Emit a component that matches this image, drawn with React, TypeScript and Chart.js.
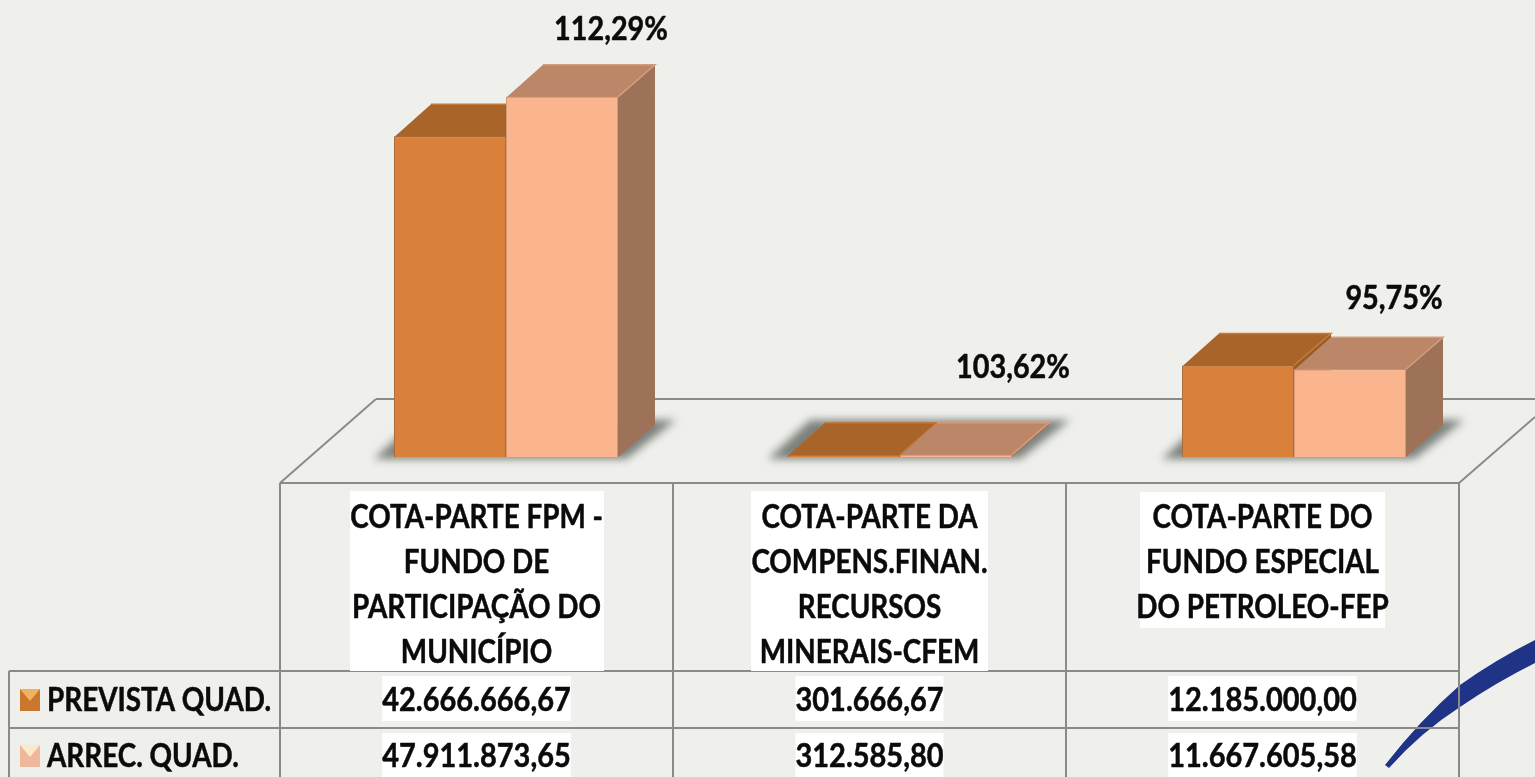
import React, { useEffect, useRef } from "react";
import { Chart, registerables } from "chart.js";

Chart.register(...registerables);

const categories = [
  "COTA-PARTE FPM - FUNDO DE PARTICIPAÇÃO DO MUNICÍPIO",
  "COTA-PARTE DA COMPENS.FINAN. RECURSOS MINERAIS-CFEM",
  "COTA-PARTE DO FUNDO ESPECIAL DO PETROLEO-FEP",
];
const categoryLines = [
  ["COTA-PARTE FPM -", "FUNDO DE", "PARTICIPAÇÃO DO", "MUNICÍPIO"],
  ["COTA-PARTE DA", "COMPENS.FINAN.", "RECURSOS", "MINERAIS-CFEM"],
  ["COTA-PARTE DO", "FUNDO ESPECIAL", "DO PETROLEO-FEP"],
];
const seriesNames = ["PREVISTA QUAD.", "ARREC. QUAD."];
const prevista = [42666666.67, 301666.67, 12185000.0];
const arrecadada = [47911873.65, 312585.8, 11667605.58];
const previstaText = ["42.666.666,67", "301.666,67", "12.185.000,00"];
const arrecadadaText = ["47.911.873,65", "312.585,80", "11.667.605,58"];
const percentLabels = ["112,29%", "103,62%", "95,75%"];

const FONT = 'Lato, "Open Sans", sans-serif';
const K_HEAD = 0.87;
const K_VALUE = 0.905;
const K_PCT = 0.9;
const BG = "#EFF0EC";
const LINE = "#8A8B88";
const pal = [
  { front: "#D9813B", top: "#A9642A", side: "#9A5A26", border: "#A9703E", rim: "#C27A3A" },
  { front: "#FAB58F", top: "#BC8769", side: "#9E7259", border: "#D49A78", rim: "#D49C7C" },
];
const swatch = [
  { body: "#C8772C", tip: "#F0B25E" },
  { body: "#EFB79C", tip: "#FBE9CC" },
];
const DX = 37;
const DY = -32;
const percentOffsets = [
  [49, -67],
  [57, -87],
  [44, -71],
];
const columnEdges = [280, 673, 1066, 1459];
const rowLines = [671, 728];
const rowCentres = [701, 757];
const lineCentres = [518, 563, 608, 653];
const labelBoxes = [
  [350, 491, 254, 180],
  [751, 491, 237, 180],
  [1140, 492, 245, 136],
];

function text(ctx: CanvasRenderingContext2D, s: string, x: number, y: number, size: number, k: number, align: CanvasTextAlign = "center") {
  ctx.save();
  ctx.font = `bold ${size}px ${FONT}`;
  ctx.textAlign = align;
  ctx.textBaseline = "middle";
  ctx.fillStyle = "#0B0B0B";
  ctx.strokeStyle = "#0B0B0B";
  ctx.lineWidth = 0.5;
  ctx.lineJoin = "round";
  ctx.translate(x, y);
  ctx.scale(k, 1);
  ctx.fillText(s, 0, 0);
  ctx.strokeText(s, 0, 0);
  ctx.restore();
}

function poly(ctx: CanvasRenderingContext2D, pts: number[][], fill: string) {
  ctx.beginPath();
  pts.forEach((p, i) => (i ? ctx.lineTo(p[0], p[1]) : ctx.moveTo(p[0], p[1])));
  ctx.closePath();
  ctx.fillStyle = fill;
  ctx.fill();
}

const backdrop = {
  id: "backdrop",
  beforeDatasetsDraw(chart: any) {
    const ctx: CanvasRenderingContext2D = chart.ctx;
    ctx.save();
    // swoosh decoration
    ctx.beginPath();
    ctx.moveTo(1385, 765);
    ctx.quadraticCurveTo(1420, 720, 1460, 685);
    ctx.quadraticCurveTo(1495, 660, 1535, 640);
    ctx.lineTo(1535, 663);
    ctx.quadraticCurveTo(1495, 683, 1460, 707);
    ctx.quadraticCurveTo(1421, 732, 1389, 768);
    ctx.closePath();
    ctx.fillStyle = "#1F3486";
    ctx.fill();

    // floor and table
    ctx.strokeStyle = LINE;
    ctx.lineWidth = 2;
    const seg = (a: number, b: number, c: number, d: number) => {
      ctx.beginPath();
      ctx.moveTo(a, b);
      ctx.lineTo(c, d);
      ctx.stroke();
    };
    seg(280, 483, 376, 399);
    seg(376, 399, 1535, 399);
    seg(1459, 483, 1535, 417);
    seg(280, 483, 1459, 483);
    columnEdges.forEach((x) => seg(x, 483, x, 777));
    rowLines.forEach((y) => seg(9, y, 1459, y));
    seg(9, 671, 9, 777);

    // shadows
    const m0 = chart.getDatasetMeta(0).data;
    const m1 = chart.getDatasetMeta(1).data;
    m0.forEach((b: any, i: number) => {
      const x0 = b.x - b.width / 2;
      const r = m1[i];
      const x1 = r.x + r.width / 2;
      ctx.save();
      ctx.filter = "blur(4px)";
      poly(ctx, [[x0 - 20, 459], [x1 + 8, 459], [x1 + 58, 420], [x0 + 22, 420]], "rgba(95,100,95,0.8)");
      ctx.restore();
    });

    // extrusions: left to right so the right bar hides the left side
    [0, 1].forEach((d) => {
      chart.getDatasetMeta(d).data.forEach((b: any) => {
        const l = b.x - b.width / 2;
        const r = b.x + b.width / 2;
        const t = b.y;
        const base = b.base;
        poly(ctx, [[r, t], [r + DX, t + DY], [r + DX, base + DY], [r, base]], pal[d].side);
        poly(ctx, [[l, t + 1], [l + DX, t + DY], [r + DX, t + DY], [r, t + 1]], pal[d].top);
        ctx.strokeStyle = pal[d].rim;
        ctx.lineWidth = 1.5;
        ctx.beginPath();
        ctx.moveTo(l + DX, t + DY);
        ctx.lineTo(r + DX, t + DY);
        ctx.lineTo(r, t);
        ctx.stroke();
      });
    });
    ctx.restore();
  },
};

const foreground = {
  id: "foreground",
  afterDatasetsDraw(chart: any) {
    const ctx: CanvasRenderingContext2D = chart.ctx;
    ctx.save();
    const m1 = chart.getDatasetMeta(1).data;
    percentLabels.forEach((s, i) => {
      text(ctx, s, m1[i].x + percentOffsets[i][0], m1[i].y + percentOffsets[i][1], 32, K_PCT);
    });

    // category header cells
    ctx.fillStyle = "#FFFFFF";
    labelBoxes.forEach((b) => ctx.fillRect(b[0], b[1], b[2], b[3]));
    categoryLines.forEach((lines, i) => {
      const cx = (columnEdges[i] + columnEdges[i + 1]) / 2;
      lines.forEach((s, j) => text(ctx, s, cx, lineCentres[j], 32, K_HEAD));
    });

    // value rows
    [previstaText, arrecadadaText].forEach((row, r) => {
      row.forEach((s, i) => {
        const cx = (columnEdges[i] + columnEdges[i + 1]) / 2;
        ctx.font = `bold 32px ${FONT}`;
        const w = ctx.measureText(s).width * K_VALUE;
        ctx.fillStyle = "#FFFFFF";
        const top = r === 0 ? 676 : 733;
        ctx.fillRect(cx - w / 2, top, w, r === 0 ? 45 : 44);
        text(ctx, s, cx, rowCentres[r], 32, K_VALUE);
      });
    });

    // series keys
    seriesNames.forEach((s, r) => {
      const y = rowCentres[r] - 1;
      ctx.fillStyle = swatch[r].body;
      ctx.fillRect(20, y - 11, 20, 22);
      poly(ctx, [[20, y - 11], [40, y - 11], [30, y + 1]], swatch[r].tip);
      text(ctx, s, 47, rowCentres[r], 32, K_HEAD, "left");
    });
    ctx.restore();
  },
};

export default function App() {
  const ref = useRef<HTMLCanvasElement>(null);
  useEffect(() => {
    const chart = new Chart(ref.current!, {
      type: "bar",
      data: {
        labels: categories,
        datasets: [
          { label: seriesNames[0], data: prevista, backgroundColor: pal[0].front, borderColor: pal[0].border, borderWidth: 1 },
          { label: seriesNames[1], data: arrecadada, backgroundColor: pal[1].front, borderColor: pal[1].border, borderWidth: 1 },
        ],
      },
      options: {
        responsive: false,
        animation: false,
        layout: { padding: { left: 309, right: 44, top: 6, bottom: 320 } },
        datasets: { bar: { categoryPercentage: 0.5685, barPercentage: 1 } },
        scales: {
          x: { display: false },
          y: { display: false, min: 0, max: 60000000 },
        },
        plugins: { legend: { display: false }, tooltip: { enabled: false }, title: { display: false } },
      } as any,
      plugins: [backdrop, foreground],
    });
    return () => chart.destroy();
  }, []);
  return (
    <div style={{ position: "absolute", left: 0, top: 0, width: 1535, height: 777, overflow: "hidden", background: BG }}>
      <canvas ref={ref} width={1535} height={777} style={{ display: "block" }} />
    </div>
  );
}
